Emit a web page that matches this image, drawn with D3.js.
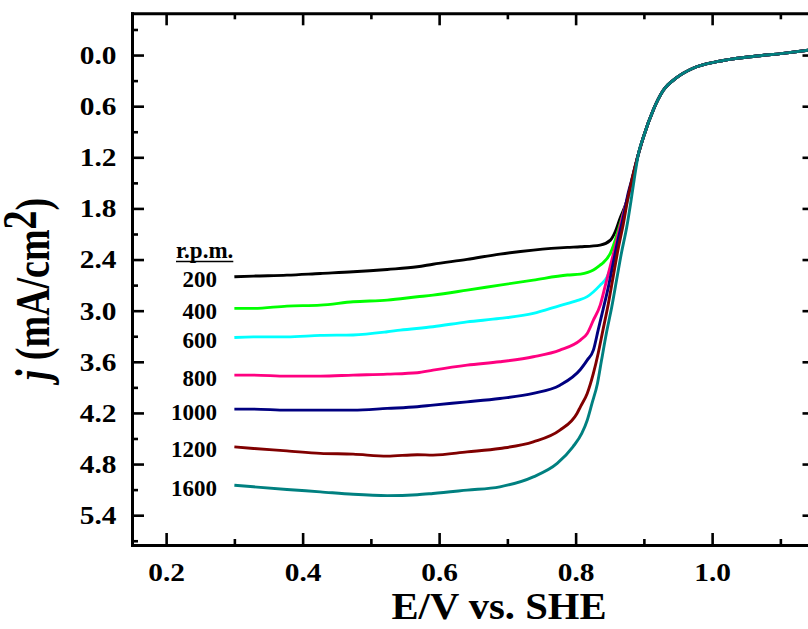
<!DOCTYPE html>
<html>
<head>
<meta charset="utf-8">
<script src="https://cdn.jsdelivr.net/npm/d3@7"></script>
<style>
  body { margin: 0; background: #fff; }
  svg { display: block; }
  text { font-family: "Liberation Serif", "Times New Roman", serif; font-weight: bold; fill: #000; }
</style>
</head>
<body>
<div id="chart"></div>
<script>
// rotation rates (legend) and line colours
var rpmLabels = ["200", "400", "600", "800", "1000", "1200", "1600"];
var rpmColors = ["#000000", "#00ff00", "#00ffff", "#ff0080", "#000080", "#800000", "#008080"];

// [E (V vs SHE), j (mA/cm2)], lower part of each sweep
var rpm200 = [[0.300,2.602],[0.328,2.594],[0.377,2.583],[0.426,2.563],[0.474,2.544],[0.524,2.516],[0.568,2.485],[0.591,2.455],[0.641,2.398],[0.689,2.336],[0.738,2.289],[0.788,2.257],[0.807,2.250],[0.836,2.230],[0.851,2.172],[0.858,2.074],[0.865,1.917],[0.873,1.761],[0.880,1.585]];
var rpm400 = [[0.300,2.973],[0.328,2.973],[0.377,2.946],[0.426,2.935],[0.474,2.896],[0.524,2.876],[0.568,2.837],[0.591,2.817],[0.641,2.759],[0.689,2.700],[0.738,2.641],[0.788,2.582],[0.807,2.571],[0.826,2.524],[0.836,2.465],[0.840,2.440],[0.851,2.324],[0.858,2.172],[0.864,2.015],[0.870,1.855],[0.877,1.663],[0.881,1.52]];
var rpm600 = [[0.300,3.314],[0.328,3.307],[0.377,3.307],[0.426,3.290],[0.474,3.285],[0.524,3.248],[0.543,3.228],[0.591,3.189],[0.641,3.131],[0.689,3.091],[0.738,3.032],[0.777,2.940],[0.803,2.880],[0.817,2.835],[0.836,2.700],[0.846,2.606],[0.8535,2.445],[0.8594,2.250],[0.8652,2.054],[0.8725,1.819],[0.880,1.585]];
var rpm800 = [[0.300,3.756],[0.328,3.756],[0.377,3.768],[0.426,3.768],[0.474,3.756],[0.524,3.745],[0.568,3.729],[0.591,3.698],[0.641,3.639],[0.689,3.600],[0.738,3.541],[0.777,3.463],[0.807,3.345],[0.817,3.267],[0.826,3.111],[0.836,2.935],[0.843,2.720],[0.8505,2.485],[0.858,2.250],[0.865,2.015],[0.8725,1.781],[0.880,1.56]];
var rpm1000 = [[0.300,4.155],[0.328,4.155],[0.377,4.167],[0.426,4.167],[0.474,4.167],[0.524,4.147],[0.568,4.128],[0.591,4.108],[0.641,4.070],[0.689,4.030],[0.738,3.971],[0.777,3.874],[0.807,3.690],[0.817,3.580],[0.826,3.463],[0.833,3.228],[0.840,2.993],[0.848,2.720],[0.855,2.445],[0.862,2.172],[0.870,1.898],[0.877,1.620],[0.882,1.47]];
var rpm1200 = [[0.300,4.598],[0.328,4.617],[0.377,4.645],[0.426,4.675],[0.474,4.684],[0.524,4.707],[0.568,4.690],[0.591,4.695],[0.641,4.657],[0.689,4.617],[0.738,4.539],[0.777,4.402],[0.802,4.206],[0.807,4.128],[0.817,3.971],[0.826,3.736],[0.833,3.502],[0.840,3.228],[0.848,2.915],[0.855,2.602],[0.862,2.289],[0.870,1.976],[0.877,1.663],[0.882,1.48]];
var rpm1600 = [[0.300,5.048],[0.328,5.067],[0.377,5.098],[0.426,5.126],[0.474,5.155],[0.524,5.170],[0.568,5.160],[0.591,5.145],[0.641,5.106],[0.689,5.067],[0.738,4.950],[0.773,4.793],[0.796,4.598],[0.809,4.441],[0.817,4.285],[0.824,4.088],[0.832,3.854],[0.838,3.580],[0.845,3.267],[0.853,2.955],[0.860,2.641],[0.867,2.328],[0.875,2.015],[0.881,1.72],[0.886,1.45]];

// upper part, where all the sweeps lie on top of each other
var sharedTail = [[0.892,1.16],[0.899,0.97],[0.914,0.64],[0.928,0.42],[0.949,0.26],[0.972,0.155],[1.007,0.078],[1.056,0.020],[1.104,-0.020],[1.150,-0.065]];

// tick values
var xMajor = [0.2, 0.4, 0.6, 0.8, 1.0];
var xMinor = [0.3, 0.5, 0.7, 0.9, 1.1];
var yMajor = [0.0, 0.6, 1.2, 1.8, 2.4, 3.0, 3.6, 4.2, 4.8, 5.4];
var yMinor = [-0.3, 0.3, 0.9, 1.5, 2.1, 2.7, 3.3, 3.9, 4.5, 5.1, 5.7];

var allSeries = [rpm200, rpm400, rpm600, rpm800, rpm1000, rpm1200, rpm1600];

makeChart();

function makeChart() {
  var svgWidth = 808;
  var svgHeight = 629;

  var plot = { left: 132, right: 814.5, top: 13.3, bottom: 545 };

  var svg = d3.select("#chart")
    .append("svg")
    .attr("width", svgWidth)
    .attr("height", svgHeight);

  var xScale = d3.scaleLinear().domain([0.15, 1.15]).range([plot.left, plot.right]);
  var yScale = d3.scaleLinear().domain([-0.49, 5.75]).range([plot.top, plot.bottom]);

  // curves
  var line = d3.line()
    .x(d => xScale(d[0]))
    .y(d => yScale(d[1]))
    .curve(d3.curveMonotoneX);

  var curves = svg.append("g");
  allSeries.forEach(function (s, i) {
    curves.append("path")
      .datum(s.concat(sharedTail))
      .attr("fill", "none")
      .attr("stroke", rpmColors[i])
      .attr("stroke-width", 2.9)
      .attr("stroke-linejoin", "round")
      .attr("d", line);
  });

  // axes: major + minor ticks, all pointing inward
  var fmt = d3.format(".1f");

  var bottom = svg.append("g")
    .attr("transform", `translate(0, ${plot.bottom})`)
    .call(d3.axisBottom(xScale).tickValues(xMajor).tickSizeInner(-12).tickSizeOuter(0).tickPadding(17.5).tickFormat(fmt));
  bottom.selectAll("text")
    .style("font-size", "26px")
    .attr("transform", "scale(1.13,1)");
  svg.append("g")
    .attr("transform", `translate(0, ${plot.bottom})`)
    .call(d3.axisBottom(xScale).tickValues(xMinor).tickSizeInner(-6).tickSizeOuter(0).tickFormat(""))
    .select(".domain").remove();

  svg.append("g")
    .attr("transform", `translate(0, ${plot.top})`)
    .call(d3.axisTop(xScale).tickValues(xMajor).tickSizeInner(-12).tickSizeOuter(0).tickFormat(""));
  svg.append("g")
    .attr("transform", `translate(0, ${plot.top})`)
    .call(d3.axisTop(xScale).tickValues(xMinor).tickSizeInner(-6).tickSizeOuter(0).tickFormat(""))
    .select(".domain").remove();

  var left = svg.append("g")
    .attr("transform", `translate(${plot.left}, 0)`)
    .call(d3.axisLeft(yScale).tickValues(yMajor).tickSizeInner(-12).tickSizeOuter(0).tickPadding(0).tickFormat(fmt));
  left.selectAll("text")
    .style("font-size", "26px")
    .attr("x", 0)
    .attr("transform", "translate(-15.5,0) scale(1.13,1)");
  svg.append("g")
    .attr("transform", `translate(${plot.left}, 0)`)
    .call(d3.axisLeft(yScale).tickValues(yMinor).tickSizeInner(-6).tickSizeOuter(0).tickFormat(""))
    .select(".domain").remove();

  svg.append("g")
    .attr("transform", `translate(${plot.right}, 0)`)
    .call(d3.axisRight(yScale).tickValues(yMajor).tickSizeInner(-12).tickSizeOuter(0).tickFormat(""));
  svg.append("g")
    .attr("transform", `translate(${plot.right}, 0)`)
    .call(d3.axisRight(yScale).tickValues(yMinor).tickSizeInner(-6).tickSizeOuter(0).tickFormat(""))
    .select(".domain").remove();

  svg.selectAll(".domain")
    .attr("stroke", "#000")
    .attr("stroke-width", 3)
    .attr("stroke-linecap", "square");
  svg.selectAll(".tick line")
    .attr("stroke", "#000")
    .attr("stroke-width", 2.6);

  // legend labels next to the start of every curve
  svg.append("g")
    .selectAll("text")
    .data(allSeries)
    .enter()
    .append("text")
    .attr("x", 217)
    .attr("y", d => yScale(d[0][1]) + 10.5)
    .attr("text-anchor", "end")
    .style("font-size", "23px")
    .text((d, i) => rpmLabels[i]);

  var rpmTitle = svg.append("text")
    .attr("x", 176)
    .attr("y", 258)
    .style("font-size", "23px")
    .text("r.p.m.");
  var w = rpmTitle.node().getComputedTextLength();
  svg.append("line")
    .attr("x1", 176).attr("x2", 176 + w)
    .attr("y1", 261.5).attr("y2", 261.5)
    .attr("stroke", "#000")
    .attr("stroke-width", 1.6);

  // axis titles
  svg.append("text")
    .attr("transform", "translate(499, 619) scale(1.07,1)")
    .attr("text-anchor", "middle")
    .style("font-size", "38px")
    .text("E/V vs. SHE");

  var yTitle = svg.append("text")
    .attr("transform", "translate(49, 289) rotate(-90) scale(1,1.25)")
    .attr("text-anchor", "middle")
    .style("font-size", "38px");
  yTitle.append("tspan").style("font-style", "italic").text("j");
  yTitle.append("tspan").text(" (mA/cm");
  yTitle.append("tspan").attr("dy", "-0.28em").text("2");
  yTitle.append("tspan").attr("dy", "0.28em").text(")");
}
</script>
</body>
</html>
